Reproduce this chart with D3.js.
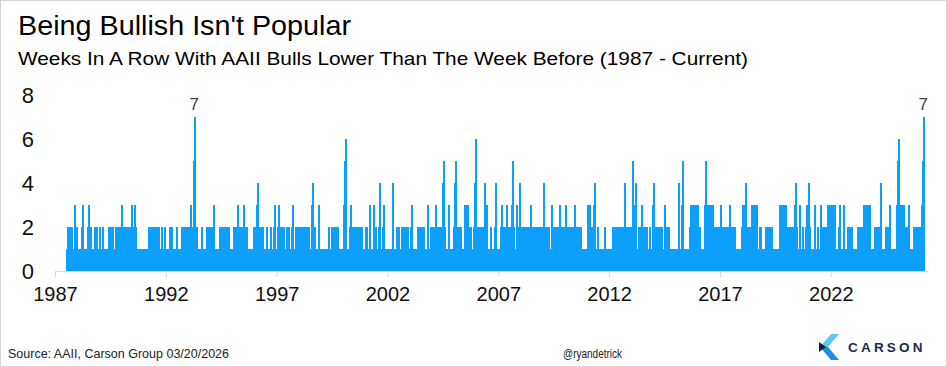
<!DOCTYPE html>
<html><head><meta charset="utf-8">
<script src="https://cdn.jsdelivr.net/npm/d3@7"></script>
<style>html,body{margin:0;padding:0;background:#fff}svg{display:block}</style>
</head><body>
<svg id="chart" width="947" height="367"></svg>
<script>
// ---------- data ----------
const firstYear = 1987;
// Weekly streak counts (weeks in a row with AAII bulls lower than the prior week), one string per calendar year
const weeklyStreaks = [
/*1987*/ "12012012012"+"01010"+"0123012",
/*1988*/ "0101010101"+"01230"+"1010101010"+"1230"+"10120101010101201201010",
/*1989*/ "120"+"1010"+"120"+"1010101010101"+"20"+"120120120"+"1010"+"120"+"10"+"120120120",
/*1990*/ "1230"+"120120120120120120"+"123"+"0120"+"1230"+"120"+"1010101010101010",
/*1991*/ "10101"+"00"+"1010"+"1201201201201201201201201201"+"010"+"120"+"101"+"0120",
/*1992*/ "1010101010"+"120120"+"1010101010"+"120"+"10101010"+"120120120120120",
/*1993*/ "120"+"120"+"1230"+"0"+"1234567"+"0"+"120"+"1010101010"+"120"+"10101010"+"120"+"101201",
/*1994*/ "012012"+"01230"+"101010101010"+"12012012012012012012012"+"010101",
/*1995*/ "0101"+"201201"+"0123"+"012"+"010"+"12010"+"1230"+"10"+"1201201"+"0101010101"+"0120",
/*1996*/ "1012"+"01234"+"012012012012"+"0101010"+"120"+"10101010"+"120"+"101"+"01230"+"10",
/*1997*/ "010"+"1230"+"1201201201201"+"010"+"12012012"+"0101"+"0123"+"010101"+"2012012",
/*1998*/ "012012012012012012"+"01201201"+"0100"+"12340"+"120120"+"01010"+"1230"+"10",
/*1999*/ "0101010101010101010"+"120"+"10120"+"12012012012012"+"01010101010",
/*2000*/ "0"+"123456"+"0"+"1010101"+"01230"+"1201201201201201201201201201"+"0101",
/*2001*/ "0120"+"12010"+"1230"+"101010"+"1230"+"12010101"+"01234"+"01010"+"1230"+"1010101",
/*2002*/ "01010101010"+"12340"+"101010"+"120"+"120"+"0"+"10101"+"201201201201201201",
/*2003*/ "010"+"1230"+"01010101010"+"1201201201201201201"+"01010"+"1230"+"101012",
/*2004*/ "012"+"012"+"01230"+"120120120120"+"0123450"+"120101010"+"1230"+"101010100",
/*2005*/ "12345"+"0"+"120120120120"+"10101"+"012301230123"+"01201201"+"010"+"0"+"12345",
/*2006*/ "6"+"0"+"120120120120120"+"01234"+"0123"+"010101012010101010"+"12340"+"101",
/*2007*/ "01010"+"01230"+"12010120"+"1230"+"12012012"+"0"+"123450"+"12010"+"1230"+"10"+"1234",
/*2008*/ "0"+"120120120120120120120"+"1230"+"120120120120120120120120"+"10",
/*2009*/ "1234"+"01201201201201"+"010"+"1230"+"12012012012012"+"0123"+"012012012",
/*2010*/ "0123"+"01201201201201201201"+"23"+"0"+"120120120120"+"1010101010101",
/*2011*/ "0123"+"0123"+"012012"+"01234"+"0101010"+"120"+"1010101010101"+"2010"+"101010",
/*2012*/ "0101010101"+"201201201201201201201201"+"01234"+"0120120120120",
/*2013*/ "012345"+"0"+"12340"+"1010"+"1201201"+"230"+"120120120120"+"101012010"+"01012",
/*2014*/ "34"+"0"+"12012012012012012"+"01010"+"1230"+"1201201201"+"0101010101010",
/*2015*/ "10101"+"01234"+"010"+"012345"+"0"+"10101010101010"+"123012301230123012",
/*2016*/ "3"+"0120120"+"10101010"+"123450"+"12301230123012301"+"201012"+"0120120",
/*2017*/ "1230"+"12012012012012012012"+"30"+"120120120120"+"10101010100101",
/*2018*/ "23"+"0"+"123"+"0"+"12340"+"120120120"+"12301230123012301"+"0101"+"201201"+"0101",
/*2019*/ "0101"+"2012012012012012"+"01001"+"0101010101"+"01230123012301230",
/*2020*/ "120120120120120120"+"012340"+"120101"+"0123"+"010120"+"101010"+"123012",
/*2021*/ "34"+"0"+"12010101010"+"1230"+"101201010"+"1230"+"1201201201201"+"23012301",
/*2022*/ "23012"+"3010"+"1230"+"101010"+"1230"+"1010100"+"1230"+"1010101"+"20120120120",
/*2023*/ "1010101010"+"1201201201201201"+"2301230123012301"+"0101010101",
/*2024*/ "20120120120"+"12340"+"10101010"+"120120120"+"1230"+"101010101010"+"0"+"12",
/*2025*/ "3456"+"0"+"1230"+"1230"+"1230"+"1201201201"+"23"+"0"+"101010101"+"2012012012012",
/*2026*/ "01200"+"1234567"
];
const yTicks = [0, 2, 4, 6, 8];
const xTickYears = [1987, 1992, 1997, 2002, 2007, 2012, 2017, 2022];
const labelValue = 7;
const titleText = "Being Bullish Isn't Popular";
const subtitleText = "Weeks In A Row With AAII Bulls Lower Than The Week Before (1987 - Current)";
const sourceText = "Source: AAII, Carson Group 03/20/2026";
const handleText = "@ryandetrick";
const brandText = "CARSON";

// ---------- build series ----------
const data = [];
weeklyStreaks.forEach((s, i) => {
  const yr = firstYear + i;
  const start = yr === 1987 ? new Date(1987, 6, 23) : new Date(yr, 0, 1);
  for (let k = 0; k < s.length; k++) {
    data.push({ date: d3.timeDay.offset(start, 7 * k), value: +s[k] });
  }
});

// ---------- drawing ----------
const svg = d3.select("#chart");
const font = "'Liberation Sans', Arial, Helvetica, sans-serif";
const barColor = "#0c9ffb";

svg.append("rect").attr("x", 0.5).attr("y", 0.5).attr("width", 946).attr("height", 366)
  .attr("fill", "#fff").attr("stroke", "#d6d6d6");

svg.append("text").attr("x", 18).attr("y", 34.5).attr("font-family", font).attr("font-size", 27.5)
  .attr("fill", "#000").attr("textLength", 333).attr("lengthAdjust", "spacingAndGlyphs").text(titleText);
svg.append("text").attr("x", 18).attr("y", 65).attr("font-family", font).attr("font-size", 18.5)
  .attr("fill", "#000").attr("textLength", 730).attr("lengthAdjust", "spacingAndGlyphs").text(subtitleText);

const x = d3.scaleTime().domain([new Date(1987, 0, 1), new Date(2026, 4, 22)]).range([55, 928]);
const y = d3.scaleLinear().domain([0, 8]).range([271, 95]);

// bars
svg.append("g").attr("shape-rendering", "crispEdges")
  .selectAll("rect").data(data.filter(d => d.value > 0)).join("rect")
  .attr("x", d => x(d.date) - 1).attr("width", 2)
  .attr("y", d => y(d.value)).attr("height", d => y(0) - y(d.value))
  .attr("fill", barColor);

// x axis
const xAxis = svg.append("g").attr("transform", `translate(0,${y(0)})`)
  .call(d3.axisBottom(x).tickValues(xTickYears.map(v => new Date(v, 0, 1)))
    .tickFormat(d3.timeFormat("%Y")).tickSize(6).tickSizeOuter(0));
xAxis.select(".domain").attr("stroke", "#d9d9d9");
xAxis.selectAll(".tick line").attr("stroke", "#d9d9d9");
xAxis.selectAll(".tick text").attr("font-family", font).attr("font-size", 20).attr("fill", "#111")
  .attr("y", 16);

// y axis
const yAxis = svg.append("g").attr("transform", "translate(35,0)")
  .call(d3.axisLeft(y).tickValues(yTicks).tickSize(0).tickPadding(1));
yAxis.select(".domain").remove();
yAxis.selectAll(".tick text").attr("font-family", font).attr("font-size", 22).attr("fill", "#111");

// peak labels
svg.append("g").selectAll("text").data(data.filter(d => d.value === labelValue)).join("text")
  .attr("x", d => x(d.date) - 1).attr("y", d => y(d.value) - 7)
  .attr("text-anchor", "middle").attr("font-family", font).attr("font-size", 17)
  .attr("fill", "#404040").text(d => d.value);

// footer
svg.append("text").attr("x", 8).attr("y", 358).attr("font-family", font).attr("font-size", 13.5)
  .attr("fill", "#222").attr("textLength", 221).attr("lengthAdjust", "spacingAndGlyphs").text(sourceText);
svg.append("text").attr("x", 563).attr("y", 358).attr("font-family", font).attr("font-size", 13.5)
  .attr("fill", "#222").attr("textLength", 59).attr("lengthAdjust", "spacingAndGlyphs").text(handleText);

// Carson logo
const logo = svg.append("g");
logo.append("polygon").attr("points", "831,334 839,334 828,347 820,347").attr("fill", "#5cc8f5");
logo.append("polygon").attr("points", "820,347 828,347 839,360 831,360").attr("fill", "#1d8fe0");
logo.append("polygon").attr("points", "819,342 826,347 819,352").attr("fill", "#0d2344");
logo.append("text").attr("x", 848).attr("y", 352).attr("font-family", font).attr("font-size", 13.5)
  .attr("font-weight", "bold").attr("fill", "#1a2b4c").attr("letter-spacing", 3.2).text(brandText);
</script>
</body></html>
